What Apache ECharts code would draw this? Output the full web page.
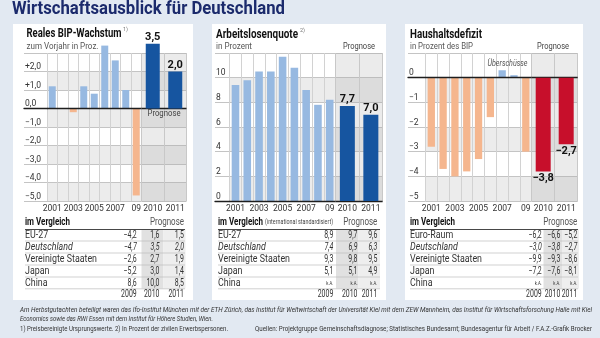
<!DOCTYPE html>
<html><head><meta charset="utf-8">
<script src="https://cdn.jsdelivr.net/npm/echarts@6/dist/echarts.min.js"></script>
<style>html,body{margin:0;padding:0;background:#e2e9f2;}#c{width:600px;height:338px;}</style>
</head><body><div id="c"></div>
<script>
// ---------- data ----------
const histYears = ['2001','2002','2003','2004','2005','2006','2007','2008','2009'];
const histLabels = ['2001','','2003','','2005','','2007','','09'];
const fcYears = ['2010','2011'];

const gdpHist = [1.2, 0.0, -0.2, 1.2, 0.8, 3.4, 2.6, 1.0, -4.7];
const gdpFc = [3.5, 2.0];
const gdpTicks = ['−5,0','−4,0','−3,0','−2,0','−1,0','0,0','+1,0','+2,0'];

const unempHist = [9.4, 9.8, 10.5, 10.5, 11.7, 10.8, 9.0, 7.8, 8.2];
const unempFc = [7.7, 7.0];
const unempTicks = ['0','2','4','6','8','10'];

const defHist = [-2.8, -3.7, -4.0, -3.8, -3.3, -1.6, 0.3, 0.1, -3.0];
const defFc = [-3.8, -2.7];
const defTicks = ['−5','−4','−3','−2','−1','0'];

const tableYears = ['2009','2010','2011'];
const gdpRows = ['EU-27','Deutschland','Vereinigte Staaten','Japan','China'];
const gdpTable = [[-4.2,1.6,1.5],[-4.7,3.5,2.0],[-2.6,2.7,1.9],[-5.2,3.0,1.4],[8.6,10.0,8.5]];
const unempRows = ['EU-27','Deutschland','Vereinigte Staaten','Japan','China'];
const unempTable = [[8.9,9.7,9.6],[7.4,6.9,6.3],[9.3,9.8,9.5],[5.1,5.1,4.9],[null,null,null]];
const defRows = ['Euro-Raum','Deutschland','Vereinigte Staaten','Japan','China'];
const defTable = [[-6.2,-6.6,-5.2],[-3.0,-3.8,-2.7],[-9.9,-9.3,-8.6],[-7.2,-7.6,-8.1],[null,null,null]];

// ---------- helpers ----------
const FONT = "Roboto,'Liberation Sans',sans-serif";
function fmt(v){ if(v==null) return 'k.A.'; return (v<0?'−':'') + Math.abs(v).toFixed(1).replace('.',','); }
const C_POS='#97b9e1', C_NEG='#f5b68e';
const mctx = document.createElement('canvas').getContext('2d');
function measure(text,size,weight,italic){ mctx.font=(italic?'italic ':'normal ')+(weight||'normal')+' '+size+'px '+FONT; return mctx.measureText(text).width; }
function fitScale(text,width,size,weight,italic){ return width/measure(text,size,weight,italic); }

const panels = [
  {min:-5,max:3,interval:1,ticks:gdpTicks,labelLeft:24,labelW:23,histLeft:47,histW:94.5,fcLeft:141.5,fcW:45,
   hist:gdpHist,fc:gdpFc,fcColor:'#1655a0',hb:7,fb:14},
  {min:0,max:12,interval:2,ticks:unempTicks,labelLeft:215,labelW:14.6,histLeft:229.6,histW:106,fcLeft:335.6,fcW:47,
   hist:unempHist,fc:unempFc,fcColor:'#1655a0',hb:7.6,fb:15},
  {min:-5,max:1,interval:1,ticks:defTicks,labelLeft:408,labelW:17.4,histLeft:425.4,histW:106.3,fcLeft:531.7,fcW:46,
   hist:defHist,fc:defFc,fcColor:'#c70f2b',hb:7.3,fb:15}
];

const grid=[], xAxis=[], yAxis=[], series=[];
const TOP=53, H=148;
const zeroLine = {symbol:'none',silent:true,label:{show:false},lineStyle:{color:'#1e1e1e',width:1.3,type:'solid'},data:[{yAxis:0}]};
const AX = {fontSize:8.5,color:'#333',fontFamily:FONT};

panels.forEach(p=>{
  let gi = grid.length;
  grid.push({left:p.labelLeft,top:TOP,width:p.labelW,height:H});
  xAxis.push({gridIndex:gi,type:'category',data:[''],axisLine:{show:true,onZero:true,lineStyle:{color:'#1e1e1e',width:1.3}},
    axisTick:{show:false},axisLabel:{show:false},splitLine:{show:false}});
  yAxis.push({gridIndex:gi,type:'value',min:p.min,max:p.max,interval:p.interval,axisLine:{show:false},axisTick:{show:false},
    axisLabel:Object.assign({inside:true,align:'left',verticalAlign:'bottom',margin:1,
      formatter:v=>p.ticks[Math.round((v-p.min)/p.interval)]||''},AX),
    splitLine:{show:true,lineStyle:{color:'#c4c4c4',width:1}}});
  gi = grid.length;
  grid.push({left:p.histLeft,top:TOP,width:p.histW,height:H});
  xAxis.push({gridIndex:gi,type:'category',data:histYears,axisLine:{show:false},axisTick:{show:false},
    axisLabel:Object.assign({interval:0,formatter:(v,i)=>histLabels[i],margin:3},AX),
    splitLine:{show:true,interval:0,lineStyle:{color:'#d2d2d2',width:1}}});
  yAxis.push({gridIndex:gi,type:'value',min:p.min,max:p.max,interval:p.interval,axisLine:{show:false},axisTick:{show:false},
    axisLabel:{show:false},splitLine:{show:true,lineStyle:{color:'#c4c4c4',width:1}},
    splitArea:{show:true,areaStyle:{color:['#ececec','#ffffff']}}});
  series.push({type:'bar',xAxisIndex:gi,yAxisIndex:gi,data:p.hist,barWidth:p.hb,clip:false,
    itemStyle:{color:o=>o.value<0?C_NEG:C_POS},markLine:zeroLine});
  gi = grid.length;
  grid.push({left:p.fcLeft,top:TOP,width:p.fcW,height:H});
  xAxis.push({gridIndex:gi,type:'category',data:fcYears,axisLine:{show:false},axisTick:{show:false},
    axisLabel:Object.assign({interval:0,margin:3},AX),
    splitLine:{show:true,interval:0,lineStyle:{color:'#c8c8c8',width:1}}});
  yAxis.push({gridIndex:gi,type:'value',min:p.min,max:p.max,interval:p.interval,axisLine:{show:false},axisTick:{show:false},
    axisLabel:{show:false},splitLine:{show:true,lineStyle:{color:'#bdbdbd',width:1}},
    splitArea:{show:true,areaStyle:{color:['#dcdcdc','#ebebeb']}}});
  series.push({type:'bar',xAxisIndex:gi,yAxisIndex:gi,data:p.fc,barWidth:p.fb,clip:false,z:5,
    itemStyle:{color:p.fcColor},
    label:{show:true,position:p.fc[0]<0?'bottom':'top',distance:1,formatter:o=>fmt(o.value),
      fontSize:11,fontWeight:'bold',color:'#111',fontFamily:FONT},
    markLine:zeroLine});
});

// ---------- graphics ----------
const g = [];
function T(x,y,text,o){ o=o||{}; const s=o.s||9.5;
  let sx = o.sx!=null ? o.sx : (o.tw ? fitScale(text,o.tw,s,o.w,o.i) : 0.8);
  g.push({type:'text',x:x,y:y,z:100,silent:true,scaleX:sx,
  style:{text:text,fill:o.c||'#333',textAlign:o.a||'left',textVerticalAlign:'middle',fontFamily:FONT,
  fontSize:s,fontWeight:o.w||'normal',fontStyle:o.i?'italic':'normal'}}); }
function R(x,y,w,h,c,z){ g.push({type:'rect',silent:true,z:z==null?-100:z,shape:{x:x,y:y,width:w,height:h},style:{fill:c}}); }
function L(x1,y,x2,c,w){ g.push({type:'line',silent:true,z:50,shape:{x1:x1,y1:y,x2:x2,y2:y},style:{stroke:c,lineWidth:w||0.8}}); }

R(13,24,180,276,'#ffffff');
R(212,24,174,276,'#ffffff');
R(405,24,178,276,'#ffffff');

T(12,9.5,'Wirtschaftsausblick für Deutschland',{s:19,w:'bold',c:'#1b2a6c',tw:273});

T(26.5,34,'Reales BIP-Wachstum',{s:12,w:'bold',c:'#111',tw:95});
T(123,30,'1)',{s:5.5,c:'#777',sx:1});
T(26.5,46.5,'zum Vorjahr in Proz.',{s:9,c:'#555',tw:72});
T(164,114,'Prognose',{s:9.5,c:'#444',a:'center',tw:33});

T(216,35,'Arbeitslosenquote',{s:12,w:'bold',c:'#111',tw:82});
T(300,31,'2)',{s:5.5,c:'#777',sx:1});
T(216,46.5,'in Prozent',{s:9,c:'#555',tw:36});
T(375,47,'Prognose',{s:9.5,c:'#444',a:'right',tw:32});

T(410,35,'Haushaltsdefizit',{s:12,w:'bold',c:'#111',tw:72});
T(410,46.5,'in Prozent des BIP',{s:9,c:'#555',tw:63});
T(569,47,'Prognose',{s:9.5,c:'#444',a:'right',tw:32});
T(507.5,64,'Überschüsse',{s:8.5,c:'#555',a:'center',i:true,tw:40});

const labelSx = fitScale('Vereinigte Staaten',72,10);
const numSx = fitScale('2009',15.6,10);
const tables = [
  {rows:gdpRows,vals:gdpTable,x0:25,x1:185,cols:[136.7,159.5,184],shade:[141.5,163.3,185.5],extra:''},
  {rows:unempRows,vals:unempTable,x0:218,x1:380,cols:[333.3,357.5,377.3],shade:[336,358.5,380],extra:'(international standardisiert)'},
  {rows:defRows,vals:defTable,x0:410,x1:578,cols:[541.7,560.3,577.3],shade:[543.5,562,579]}
];
const rowY=[235.2,247.2,259.2,271.2,283];
tables.forEach(t=>{
  R(t.shade[0],229.5,t.shade[1]-t.shade[0],59,'#e1e1e1',-50);
  R(t.shade[1],229.5,t.shade[2]-t.shade[1],59,'#eeeeee',-50);
  T(t.x0,222,'im Vergleich',{s:10,w:'bold',c:'#111',tw:45});
  if(t.extra) T(t.x0+47,222.8,t.extra,{s:6.5,c:'#444',tw:68});
  T(t.cols[2],222,'Prognose',{s:10,c:'#555',a:'right',tw:34});
  L(t.x0,229.5,t.x1,'#333',0.9);
  t.rows.forEach((r,i)=>{
    T(t.x0,rowY[i],r,{s:10,c:'#333',i:r==='Deutschland',sx:labelSx});
    t.vals[i].forEach((v,j)=>{
      T(t.cols[j],rowY[i],fmt(v),{s:v==null?6:10,c:'#333',a:'right',i:r==='Deutschland',sx:numSx});
    });
    L(t.x0,rowY[i]+5.8,t.x1,'#bdbdbd',0.7);
  });
  tableYears.forEach((y,j)=>T(t.cols[j],294,y,{s:10,c:'#333',a:'right',sx:numSx}));
});

T(20,310.7,'Am Herbstgutachten beteiligt waren das Ifo-Institut München mit der ETH Zürich, das Institut für Weltwirtschaft der Universität Kiel mit dem ZEW Mannheim, das Institut für Wirtschaftsforschung Halle mit Kiel',{s:7,i:true,c:'#333',tw:572});
T(20,319,'Economics sowie das RWI Essen mit dem Institut für Höhere Studien, Wien.',{s:7,i:true,c:'#333',tw:193});
T(20,329,'1) Preisbereinigte Ursprungswerte. 2) In Prozent der zivilen Erwerbspersonen.',{s:7,c:'#333',tw:208});
T(592,329,'Quellen: Projektgruppe Gemeinschaftsdiagnose; Statistisches Bundesamt; Bundesagentur für Arbeit / F.A.Z.-Grafik Brocker',{s:7,c:'#333',a:'right',tw:337});

const chart = echarts.init(document.getElementById('c'),null,{renderer:'canvas'});
chart.setOption({
  backgroundColor:'#e2e9f2',
  animation:false,
  textStyle:{fontFamily:FONT},
  grid:grid, xAxis:xAxis, yAxis:yAxis, series:series, graphic:g
});
</script></body></html>
